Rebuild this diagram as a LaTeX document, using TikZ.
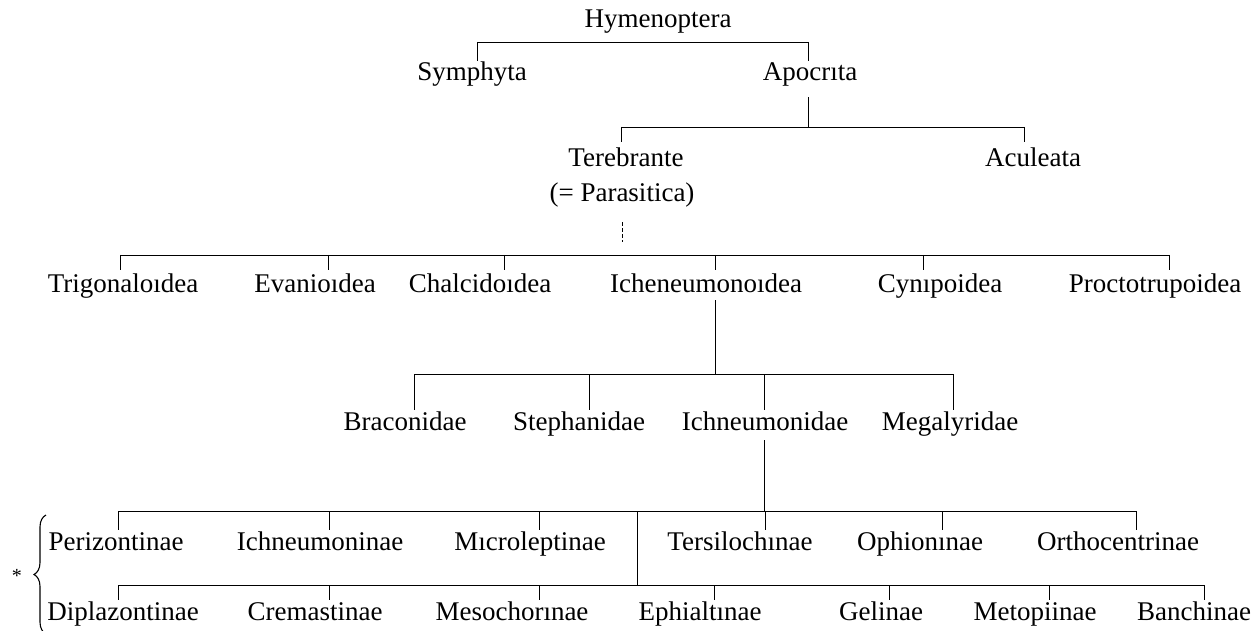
\documentclass[tikz,border=0pt]{standalone}
\usepackage{fontspec}
\setmainfont{Liberation Serif}
\usetikzlibrary{decorations.pathreplacing}

\begin{document}
\begin{tikzpicture}[x=1pt,y=-1pt,line width=0.9pt,
    taxon/.style={inner sep=2pt,text height=18pt,text depth=6pt,anchor=base,
                  font=\fontsize{27}{30}\selectfont}]
   \useasboundingbox (0,0) rectangle (1259,631);

          \node[taxon] (Hym) at(658,28) {Hymenoptera};
          \node[taxon] (Sym) at(472,81) {Symphyta};
          \node[taxon] (Apo) at(810,81) {Apocrıta};
          \node[taxon] (Ter) at(626,167) {Terebrante};
          \node[taxon] (Acu) at(1033,167) {Aculeata};
          \node[taxon] (Par) at(622,202) {(= Parasitica)};

          \node[taxon] (Tri) at(123,292) {Trigonaloıdea};
          \node[taxon] (Eva) at(315,292) {Evanioıdea};
          \node[taxon] (Cha) at(480,292) {Chalcidoıdea};
          \node[taxon] (Icho) at(706,292) {Icheneumonoıdea};
          \node[taxon] (Cyn) at(940,292) {Cynıpoidea};
          \node[taxon] (Pro) at(1155,292) {Proctotrupoidea};

          \node[taxon] (Bra) at(405,430) {Braconidae};
          \node[taxon] (Ste) at(579,430) {Stephanidae};
          \node[taxon] (Ichn) at(765,430) {Ichneumonidae};
          \node[taxon] (Meg) at(950,430) {Megalyridae};

          \node[taxon] (Per) at(116,550) {Perizontinae};
          \node[taxon] (Ichm) at(320,550) {Ichneumoninae};
          \node[taxon] (Mic) at(530,550) {Mıcroleptinae};
          \node[taxon] (Tes) at(740,550) {Tersilochınae};
          \node[taxon] (Oph) at(920,550) {Ophionınae};
          \node[taxon] (Ort) at(1118,550) {Orthocentrinae};

          \node[taxon] (Dip) at(123,620) {Diplazontinae};
          \node[taxon] (Cre) at(315,620) {Cremastinae};
          \node[taxon] (Mes) at(512,620) {Mesochorınae};
          \node[taxon] (Eph) at(700,620) {Ephialtınae};
          \node[taxon] (Gel) at(881,620) {Gelinae};
          \node[taxon] (Met) at(1035,620) {Metopiinae};
          \node[taxon] (Ban) at(1194,620) {Banchinae};

          \node[font=\fontsize{20}{20}\selectfont] (Ast) at(17,576) {*};

   % Hymenoptera
             \draw (477,42) -- (808,42);
   \foreach \n/\x in {Sym/477,Apo/808}
             {
               \draw (\x,42) -- (\x,42 |- \n.north);
             }
             \draw[shorten >=8pt] (808,127) -- (808,127 |- Apo.south);

   % Apocrita
             \draw (621,127) -- (1024,127);
   \foreach \n/\x in {Ter/621,Acu/1024}
             {
               \draw[shorten >=5pt] (\x,127) -- (\x,127 |- \n.north);
             }
             \draw[dash pattern=on 4pt off 2pt]
                ([yshift=-12pt]Par.south) -- ([yshift=-32pt]Par.south);

   % Terebrante
             \draw (120,255) -- (1169,255);
   \foreach \n/\x in {Tri/120,Eva/328,Cha/504,Icho/715,Cyn/923,Pro/1169}
             {
               \draw[shorten >=2pt] (\x,255) -- (\x,255 |- \n.north);
             }
             \draw (715,374) -- (715,374 |- Icho.south);

   % Icheneumonoidea
             \draw (414,374) -- (953,374);
   \foreach \n/\x in {Bra/414,Ste/589,Ichn/764,Meg/953}
             {
               \draw (\x,374) -- (\x,374 |- \n.north);
             }
             \draw[shorten >=2pt] (764,511) -- (764,511 |- Ichn.south);

   % Ichneumonidae
             \draw (118,511) -- (1136,511);
   \foreach \n/\x in {Per/118,Ichm/329,Mic/539,Tes/765,Oph/942,Ort/1136}
             {
               \draw (\x,511) -- (\x,511 |- \n.north);
             }
             \draw (637,511) -- (637,585);
             \draw (118,585) -- (1204,585);
   \foreach \n/\x in {Dip/118,Cre/329,Mes/539,Eph/714,Gel/889,Met/1049,Ban/1204}
             {
               \draw (\x,585) -- (\x,585 |- \n.north);
             }

             \draw[line width=1.1pt,decorate,decoration={brace,amplitude=12pt}]
                (46,634) -- (46,515);

        \end{tikzpicture}
\end{document}
